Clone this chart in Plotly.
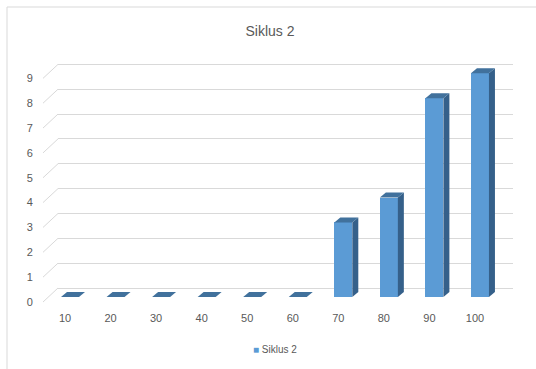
import plotly.graph_objects as go

# Data
categories = ["10", "20", "30", "40", "50", "60", "70", "80", "90", "100"]
values = [0, 0, 0, 0, 0, 0, 3, 4, 8, 9]
y_ticks = list(range(0, 10))
series_name = "Siklus 2"
chart_title = "Siklus 2"

# Pixel geometry of the pseudo-3D column layout
W, H = 536, 369
PLOT_L, PLOT_R, PLOT_T, PLOT_B = 58, 513, 55, 310
CAT0_PX, CAT_STEP = 65, 45.55        # x pixel of first category, spacing
UNIT_PX = 24.85                      # pixels per y unit
BAR_BASE_PX = 297                    # front baseline of the columns
LABEL_BASE_PX = 302                  # y tick labels (front plane)
GRID_BASE_PX = 288                   # gridlines (back wall)
DEPTH_DX_PX, DEPTH_DY_PX = 6, 5      # depth of the columns

bar_width = 18 / CAT_STEP
bar_offset = -4 / CAT_STEP
dx = DEPTH_DX_PX / CAT_STEP
dy = DEPTH_DY_PX / UNIT_PX

FRONT = "#5B9BD5"
SIDE = "#35608A"
TOP = "#41719C"
GRID = "#D9D9D9"
TEXT = "#595959"
FONT = "Liberation Sans"


def yrange(base_px):
    return [(base_px - PLOT_B) / UNIT_PX, (base_px - PLOT_T) / UNIT_PX]


xs = list(range(len(categories)))
xrange_ = [(PLOT_L - CAT0_PX) / CAT_STEP, (PLOT_R - CAT0_PX) / CAT_STEP]
pw = PLOT_R - PLOT_L
ph = PLOT_B - PLOT_T

fig = go.Figure()

# Front faces of the columns
fig.add_trace(go.Bar(
    x=xs, y=values, width=bar_width, offset=bar_offset,
    marker=dict(color=FRONT, line=dict(width=0)),
    name=series_name, showlegend=False, hoverinfo="skip",
))

# Side and top faces computed from the same values
for i, v in zip(xs, values):
    xl = i + bar_offset
    xr = xl + bar_width
    fig.add_trace(go.Scatter(
        x=[xr, xr, xr + dx, xr + dx, xr], y=[0, v, v + dy, dy, 0],
        fill="toself", fillcolor=SIDE, mode="lines", line=dict(width=0),
        showlegend=False, hoverinfo="skip",
    ))
    fig.add_trace(go.Scatter(
        x=[xl, xr, xr + dx, xl + dx, xl], y=[v, v, v + dy, v + dy, v],
        fill="toself", fillcolor=TOP, mode="lines", line=dict(width=0),
        showlegend=False, hoverinfo="skip",
    ))

# Axes carrying the tick labels (front) and the gridlines (back wall)
fig.add_trace(go.Scatter(x=[None], y=[None], yaxis="y2", showlegend=False, hoverinfo="skip"))
fig.add_trace(go.Scatter(x=[None], y=[None], yaxis="y3", showlegend=False, hoverinfo="skip"))

# Diagonal connectors from the tick labels to the back-wall gridlines
shapes = []
x_start = (43 - PLOT_L) / pw
for k in y_ticks:
    shapes.append(dict(
        type="line", xref="paper", yref="y2",
        x0=x_start, x1=0,
        y0=k, y1=k + (LABEL_BASE_PX - GRID_BASE_PX) / UNIT_PX,
        line=dict(color=GRID, width=1),
    ))

# Chart frame
shapes.append(dict(
    type="rect", xref="paper", yref="paper",
    x0=(7 - PLOT_L) / pw, x1=(545 - PLOT_L) / pw,
    y0=(PLOT_B - 380) / ph, y1=(PLOT_B - 7) / ph,
    line=dict(color=GRID, width=1), fillcolor="rgba(0,0,0,0)", layer="below",
))

# Legend entry
legend_text = (f"<span style='color:{FRONT};font-size:10px'>■</span>"
               f"<span style='font-size:10px'> {series_name}</span>")

fig.update_layout(
    width=W, height=H,
    margin=dict(l=PLOT_L, r=W - PLOT_R, t=PLOT_T, b=H - PLOT_B, autoexpand=False),
    paper_bgcolor="white", plot_bgcolor="rgba(0,0,0,0)",
    font=dict(family=FONT, color=TEXT, size=11),
    title=dict(text=chart_title, x=(270 - PLOT_L) / pw, xref="paper", y=1 - 31 / H,
               yanchor="middle", xanchor="center",
               font=dict(family=FONT, size=14, color=TEXT)),
    xaxis=dict(range=xrange_, tickmode="array", tickvals=xs, ticktext=categories,
               showgrid=False, zeroline=False, showline=False, ticks="",
               tickfont=dict(size=11, color=TEXT), fixedrange=True),
    yaxis=dict(range=yrange(BAR_BASE_PX), showgrid=False, zeroline=False,
               showticklabels=False, showline=False, ticks=""),
    yaxis2=dict(range=yrange(LABEL_BASE_PX), overlaying="y", side="left",
                tickmode="array", tickvals=y_ticks, showgrid=False, zeroline=False,
                showline=False, ticks="outside", ticklen=22,
                tickcolor="rgba(0,0,0,0)", tickfont=dict(size=11, color=TEXT)),
    yaxis3=dict(range=yrange(GRID_BASE_PX), overlaying="y", side="left",
                tickmode="array", tickvals=y_ticks, showgrid=True, gridcolor=GRID,
                gridwidth=1, zeroline=False, showticklabels=False, showline=False,
                ticks=""),
    annotations=[dict(text=legend_text, xref="paper", yref="paper",
                      x=(275 - PLOT_L) / pw, y=(PLOT_B - 350) / ph,
                      xanchor="center", yanchor="middle", showarrow=False,
                      font=dict(family=FONT, color=TEXT))],
    shapes=shapes,
    showlegend=False,
    bargap=0,
)

fig.write_html("out.html")
